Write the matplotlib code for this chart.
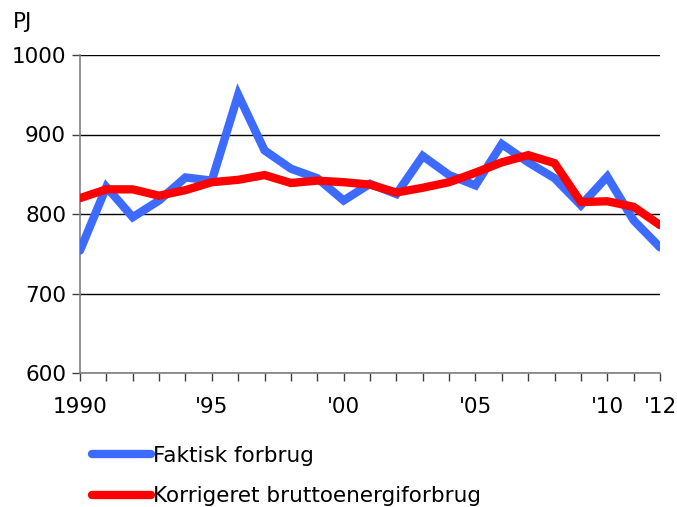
import matplotlib
matplotlib.use("Agg")
import matplotlib.pyplot as plt

years = list(range(1990, 2013))
faktisk = [754, 834, 796, 817, 846, 842, 950, 880, 857, 845, 817, 838,
           825, 873, 849, 836, 888, 865, 845, 811, 847, 792, 758]
korrigeret = [820, 831, 831, 823, 830, 840, 843, 849, 839, 842, 840, 837,
              827, 833, 840, 852, 865, 874, 864, 815, 816, 809, 786]
tick_years = [1990, 1995, 2000, 2005, 2010, 2012]
tick_labels = ["1990", "'95", "'00", "'05", "'10", "'12"]

W, H = 677, 507
fs = 15.5
fig = plt.figure(figsize=(W / 100, H / 100), dpi=100)
ax = fig.add_axes([80 / W, 1 - 373 / H, (660 - 80) / W, (373 - 55) / H])

ax.plot(years, faktisk, color="#3d6bff", lw=6, solid_capstyle="round",
        solid_joinstyle="miter", label="Faktisk forbrug", zorder=3)
ax.plot(years, korrigeret, color="#ff0000", lw=6, solid_capstyle="round",
        solid_joinstyle="miter", label="Korrigeret bruttoenergiforbrug", zorder=4)

ax.set_xlim(1990, 2012)
ax.set_ylim(600, 1000)
ax.set_yticks([600, 700, 800, 900, 1000])
ax.set_xticks(years, minor=True)
ax.set_xticks(tick_years)
ax.set_xticklabels(tick_labels)
ax.yaxis.grid(True, color="black", lw=1)
ax.set_axisbelow(True)

for s in ["top", "right"]:
    ax.spines[s].set_visible(False)
for s in ["left", "bottom"]:
    ax.spines[s].set_color("#808080")
    ax.spines[s].set_linewidth(1.2)

ax.tick_params(axis="both", which="both", direction="out", color="#404040",
               length=6, width=1, labelsize=fs)
ax.tick_params(axis="x", which="major", pad=11)
ax.tick_params(axis="y", pad=4)

fig.text(13 / W, 1 - 22 / H, "PJ", fontsize=fs, va="center", ha="left")

fig.legend(loc="upper left", bbox_to_anchor=(83 / W, 1 - 437 / H),
           frameon=False, fontsize=fs, handlelength=2.75, handletextpad=0.08,
           labelspacing=0.95, borderaxespad=0)

fig.savefig("out.png", dpi=100)
